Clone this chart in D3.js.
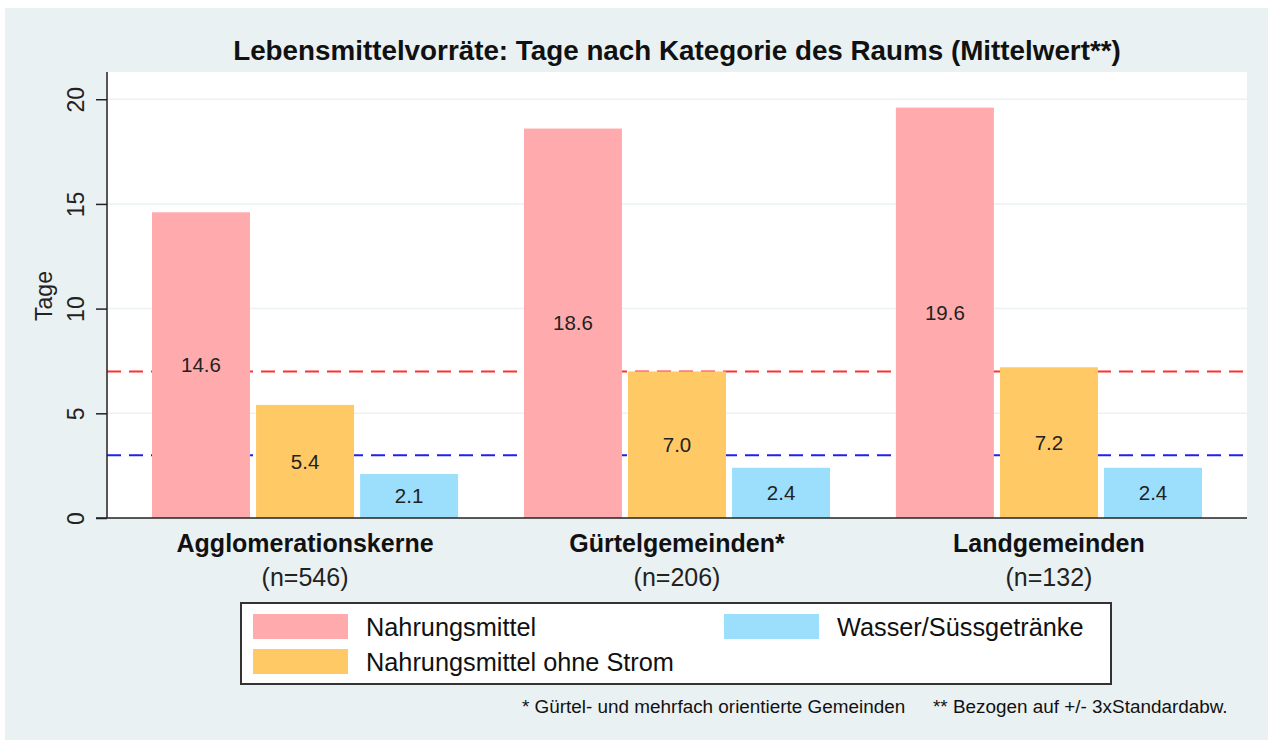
<!DOCTYPE html>
<html>
<head>
<meta charset="utf-8">
<script src="https://cdn.jsdelivr.net/npm/d3@7"></script>
<style>
  html, body { margin: 0; padding: 0; background: #ffffff; }
  svg { display: block; font-family: Arial, "Liberation Sans", sans-serif; }
</style>
</head>
<body>
<svg id="chart" width="1273" height="742"></svg>
<script>
// ---- data ----
const categories = ["Agglomerationskerne", "Gürtelgemeinden*", "Landgemeinden"];
const categoryN = ["(n=546)", "(n=206)", "(n=132)"];
const series = ["Nahrungsmittel", "Nahrungsmittel ohne Strom", "Wasser/Süssgetränke"];
const nahrungsmittel = [14.6, 18.6, 19.6];
const ohneStrom = [5.4, 7.0, 7.2];
const wasser = [2.1, 2.4, 2.4];
const yTicks = [0, 5, 10, 15, 20];
const refLines = [7, 3];
const title = "Lebensmittelvorräte: Tage nach Kategorie des Raums (Mittelwert**)";
const yTitle = "Tage";
const footnotes = ["* Gürtel- und mehrfach orientierte Gemeinden", "** Bezogen auf +/- 3xStandardabw."];

const seriesValues = [nahrungsmittel, ohneStrom, wasser];
const colors = ["#FFABAE", "#FFCA66", "#9CDFFC"];
const refColors = ["#FF3030", "#2020F0"];

const svg = d3.select("#chart");
const plot = { left: 107, right: 1247, top: 72, bottom: 518 };

// background
svg.append("rect").attr("x", 5).attr("y", 8).attr("width", 1263).attr("height", 732).attr("fill", "#EAF1F3");
svg.append("rect").attr("x", plot.left).attr("y", plot.top)
  .attr("width", plot.right - plot.left).attr("height", plot.bottom - plot.top).attr("fill", "#ffffff");

// scales
const y = d3.scaleLinear().domain([0, 21.3]).range([plot.bottom, plot.top]);
const x0 = d3.scaleBand().domain(categories).range([plot.left, plot.right]).paddingInner(0.177).paddingOuter(0.121);
const x1 = d3.scaleBand().domain(series).range([0, x0.bandwidth()]).paddingInner(0.058).paddingOuter(0);

// grid
svg.append("g").selectAll("line").data(yTicks.filter(d => d > 0)).join("line")
  .attr("x1", plot.left).attr("x2", plot.right)
  .attr("y1", d => y(d)).attr("y2", d => y(d))
  .attr("stroke", "#EAF2F3").attr("stroke-width", 1.5);

// reference lines
svg.append("g").selectAll("line").data(refLines).join("line")
  .attr("x1", plot.left).attr("x2", plot.right)
  .attr("y1", d => y(d)).attr("y2", d => y(d))
  .attr("stroke", (d, i) => refColors[i]).attr("stroke-width", 2)
  .attr("stroke-dasharray", "14,8");

// bars
const rows = [];
categories.forEach((c, ci) => series.forEach((s, si) => rows.push({ c, s, si, v: seriesValues[si][ci] })));

const g = svg.append("g");
g.selectAll("rect").data(rows).join("rect")
  .attr("x", d => x0(d.c) + x1(d.s))
  .attr("y", d => y(d.v))
  .attr("width", x1.bandwidth())
  .attr("height", d => y(0) - y(d.v))
  .attr("fill", d => colors[d.si]);

g.selectAll("text").data(rows).join("text")
  .attr("x", d => x0(d.c) + x1(d.s) + x1.bandwidth() / 2)
  .attr("y", d => (y(d.v) + y(0)) / 2)
  .attr("dy", "0.35em")
  .attr("text-anchor", "middle")
  .attr("font-size", 20.5)
  .attr("fill", "#222")
  .text(d => d.v.toFixed(1));

// y axis
const yAxis = svg.append("g").attr("transform", `translate(${plot.left},0)`)
  .call(d3.axisLeft(y).tickValues(yTicks).tickSize(11).tickFormat(d3.format("d")));
yAxis.select(".domain").attr("d", `M0,${plot.top}V${plot.bottom}`).attr("stroke", "#222").attr("stroke-width", 1.5);
yAxis.selectAll(".tick line").attr("stroke", "#222").attr("stroke-width", 1.5);
yAxis.selectAll(".tick text")
  .attr("font-size", 23).attr("fill", "#222").attr("font-family", "Arial, 'Liberation Sans', sans-serif")
  .attr("x", null).attr("dy", null)
  .attr("text-anchor", "middle")
  .attr("transform", "translate(-23,0) rotate(-90)");

// x axis baseline
svg.append("line").attr("x1", 96).attr("x2", plot.right)
  .attr("y1", plot.bottom).attr("y2", plot.bottom)
  .attr("stroke", "#222").attr("stroke-width", 1.5);

// category labels
const cl = svg.append("g");
cl.selectAll("text.cat").data(categories).join("text").attr("class", "cat")
  .attr("x", d => x0(d) + x0.bandwidth() / 2).attr("y", 552)
  .attr("text-anchor", "middle").attr("font-size", 25).attr("font-weight", "bold").attr("fill", "#111")
  .text(d => d);
cl.selectAll("text.n").data(categoryN).join("text").attr("class", "n")
  .attr("x", (d, i) => x0(categories[i]) + x0.bandwidth() / 2).attr("y", 586)
  .attr("text-anchor", "middle").attr("font-size", 25).attr("fill", "#222")
  .text(d => d);

// title
svg.append("text").attr("x", (plot.left + plot.right) / 2).attr("y", 60)
  .attr("text-anchor", "middle").attr("font-size", 27.8).attr("font-weight", "bold").attr("fill", "#111")
  .text(title);

// y title
svg.append("text").attr("transform", `translate(52,296) rotate(-90)`)
  .attr("text-anchor", "middle").attr("font-size", 23).attr("fill", "#222")
  .text(yTitle);

// legend
const lg = svg.append("g");
lg.append("rect").attr("x", 241).attr("y", 603).attr("width", 870).attr("height", 81)
  .attr("fill", "#fff").attr("stroke", "#333").attr("stroke-width", 2);
const legendPos = [{ x: 253, y: 614 }, { x: 253, y: 649 }, { x: 724, y: 614 }];
const li = lg.selectAll("g.item").data(series).join("g").attr("class", "item")
  .attr("transform", (d, i) => `translate(${legendPos[i].x},${legendPos[i].y})`);
li.append("rect").attr("width", 95).attr("height", 25).attr("fill", (d, i) => colors[i]);
li.append("text").attr("x", 113).attr("y", 22).attr("font-size", 25.3).attr("fill", "#111").text(d => d);

// footnotes
const fx = [522, 933];
svg.selectAll("text.foot").data(footnotes).join("text").attr("class", "foot")
  .attr("x", (d, i) => fx[i]).attr("y", 713)
  .attr("font-size", 18.9).attr("fill", "#111")
  .text(d => d);
</script>
</body>
</html>
